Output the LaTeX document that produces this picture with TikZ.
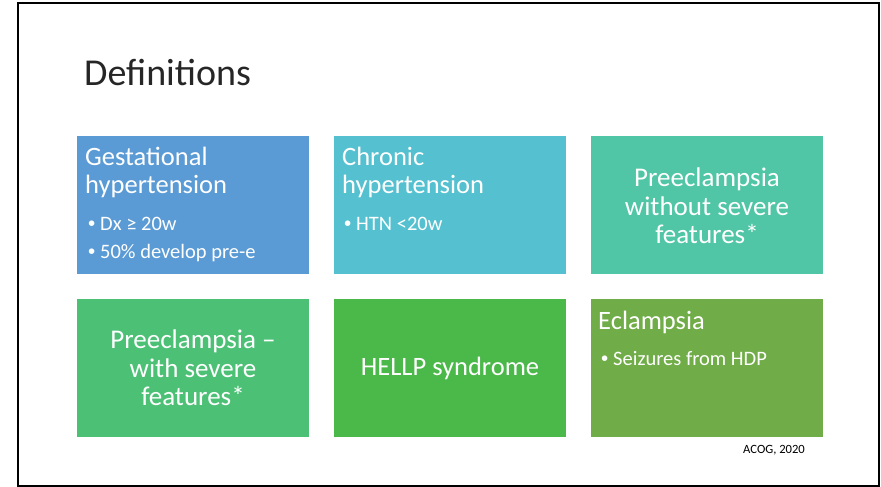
\documentclass[tikz,border=0pt]{standalone}
\usepackage{fontspec}
\setmainfont{Carlito}
\newfontfamily\bulfont{Liberation Sans}
\definecolor{cA}{HTML}{5B9BD5}
\definecolor{cB}{HTML}{55C1D0}
\definecolor{cC}{HTML}{50C6A6}
\definecolor{cD}{HTML}{4CC176}
\definecolor{cE}{HTML}{4BB84A}
\definecolor{cF}{HTML}{70AC47}
\newcommand{\bulmark}{\makebox[12pt][l]{\bulfont •}}
\begin{document}
\begin{tikzpicture}[x=1pt,y=-1pt,
  box/.style={draw=none, anchor=north west, inner sep=0pt, outer sep=0pt, minimum width=232pt, minimum height=138pt},
  head/.style={anchor=base west, text=white, inner sep=0pt, font=\fontsize{26.5}{29}\selectfont},
  mid/.style={anchor=center, align=center, text=white, inner sep=0pt, font=\fontsize{27}{28.5}\selectfont},
  bul/.style={anchor=base west, text=white, inner sep=0pt, font=\fontsize{20.5}{22}\selectfont},
  ]
\useasboundingbox (0,0) rectangle (881,487);
\draw[line width=2pt] (18,3) rectangle (879,486);
\node[anchor=base west, inner sep=0pt, font=\fontsize{38}{42}\selectfont, text=black!85] (title) at (84,85) {Definitions};
% row 1
\node[box, fill=cA] (b1) at (77,136) {};
\node[box, fill=cB] (b2) at (334,136) {};
\node[box, fill=cC] (b3) at (591,136) {};
% row 2
\node[box, fill=cD] (b4) at (77,299) {};
\node[box, fill=cE] (b5) at (334,299) {};
\node[box, fill=cF] (b6) at (591,299) {};
% box 1
\node[head] (t1a) at (85,165) {Gestational};
\node[head] (t1b) at (85,193.5) {hypertension};
\node[bul] (t1c) at (88,230) {\bulmark Dx ≥ 20w};
\node[bul] (t1d) at (88,258) {\bulmark 50\% develop pre-e};
% box 2
\node[head] (t2a) at (342,165) {Chronic};
\node[head] (t2b) at (342,193.5) {hypertension};
\node[bul] (t2c) at (344,230) {\bulmark HTN <20w};
% box 3
\node[mid] (t3) at (707,206) {Preeclampsia\\without severe\\features*};
% box 4
\node[mid] (t4) at (193,368) {Preeclampsia –\\with severe\\features*};
% box 5
\node[anchor=base, text=white, inner sep=0pt, font=\fontsize{26.5}{28.5}\selectfont] (t5) at (450,375) {HELLP syndrome};
% box 6
\node[head] (t6a) at (598,329) {Eclampsia};
\node[bul] (t6b) at (601,365) {\bulmark Seizures from HDP};
% source
\node[anchor=base west, inner sep=0pt, font=\fontsize{12.6}{14}\selectfont] (src) at (743,453) {ACOG, 2020};
\end{tikzpicture}
\end{document}
